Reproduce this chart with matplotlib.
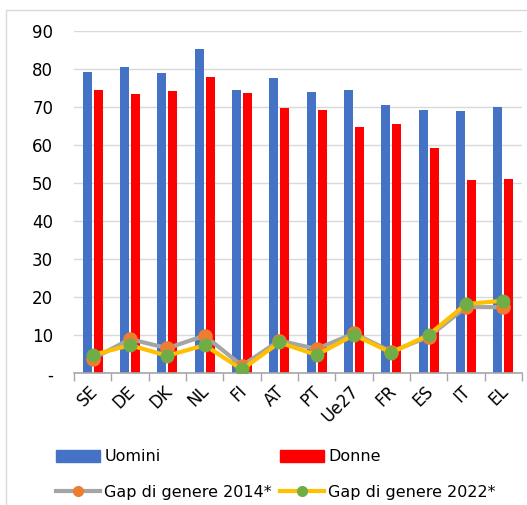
import matplotlib
matplotlib.use("Agg")
import matplotlib.pyplot as plt
import matplotlib.transforms as mtransforms
import numpy as np
from matplotlib.patches import Rectangle, Patch
from matplotlib.lines import Line2D

# dati
paesi = ["SE", "DE", "DK", "NL", "FI", "AT", "PT", "Ue27", "FR", "ES", "IT", "EL"]
uomini = [79.1, 80.6, 78.9, 85.3, 74.5, 77.7, 73.9, 74.5, 70.6, 69.2, 69.0, 70.1]
donne = [74.5, 73.4, 74.2, 78.0, 73.6, 69.8, 69.2, 64.8, 65.5, 59.2, 50.7, 51.0]
gap_2014 = [3.8, 9.0, 6.6, 9.9, 2.0, 8.6, 6.4, 10.5, 5.7, 9.6, 17.4, 17.4]
gap_2022 = [4.8, 7.4, 4.6, 7.4, 1.0, 8.1, 4.8, 10.1, 5.4, 10.1, 18.2, 19.1]
y_ticks = [0, 10, 20, 30, 40, 50, 60, 70, 80, 90]
y_labels = ["-", "10", "20", "30", "40", "50", "60", "70", "80", "90"]

plt.rcParams['font.family'] = ['DejaVu Sans']

W, H = 527, 505
fig = plt.figure(figsize=(W / 100, H / 100), dpi=100)
ax = fig.add_axes([74 / W, 1 - 373.3 / H, (522 - 74) / W, (373.3 - 31) / H])

x = np.arange(len(paesi))
ax.bar(x - 0.15, uomini, width=0.24, color="#4472C4", zorder=2)
ax.bar(x + 0.15, donne, width=0.24, color="#FF0000", zorder=2)

ax.plot(x, gap_2014, color="#A5A5A5", lw=3, marker="o", ms=9.5,
        mfc="#ED7D31", mec="#ED7D31", zorder=3)
ax.plot(x, gap_2022, color="#FFC000", lw=3, marker="o", ms=9,
        mfc="#70AD47", mec="#70AD47", zorder=4)

ax.set_xlim(-0.5, len(paesi) - 0.5)
ax.set_ylim(0, 90)
ax.set_yticks(y_ticks)
ax.set_yticklabels(y_labels, fontsize=12)
ax.yaxis.grid(True, color="#D9D9D9", lw=1)
ax.set_axisbelow(True)
ax.tick_params(axis="y", length=0, pad=15)

ax.set_xticks(x)
ax.set_xticklabels(paesi, fontsize=12, rotation=45, ha="right", va="center",
                   rotation_mode="anchor")
ax.set_xticks(np.arange(-0.5, len(paesi)), minor=True)
ax.tick_params(axis="x", which="major", length=0, pad=11)
ax.tick_params(axis="x", which="minor", length=6, color="#A6A6A6", width=1)
sposta = mtransforms.ScaledTranslation(2 / 100, 0, fig.dpi_scale_trans)
for lab in ax.get_xticklabels():
    lab.set_transform(lab.get_transform() + sposta)

for s in ["top", "right", "left"]:
    ax.spines[s].set_visible(False)
ax.spines["bottom"].set_color("#A6A6A6")
ax.spines["bottom"].set_linewidth(1.2)

# bordo del riquadro
fig.patches.append(Rectangle((6 / W, -0.1), 1.2, 1.1 - 10 / H, transform=fig.transFigure,
                             fill=False, edgecolor="#D9D9D9", lw=1))

handles = [
    Patch(color="#4472C4", label="Uomini"),
    Line2D([], [], color="#A5A5A5", lw=3, marker="o", ms=7, mfc="#ED7D31",
           mec="#ED7D31", label="Gap di genere 2014*"),
    Patch(color="#FF0000", label="Donne"),
    Line2D([], [], color="#FFC000", lw=3, marker="o", ms=7, mfc="#70AD47",
           mec="#70AD47", label="Gap di genere 2022*"),
]
fig.legend(handles=handles, ncol=2, loc="upper left", bbox_to_anchor=(42 / W, 1 - 435 / H),
           frameon=False, fontsize=11.5, handlelength=2.75, handleheight=0.75,
           handletextpad=0.26, columnspacing=0.5, labelspacing=1.3)

fig.savefig("out.png", dpi=100)
